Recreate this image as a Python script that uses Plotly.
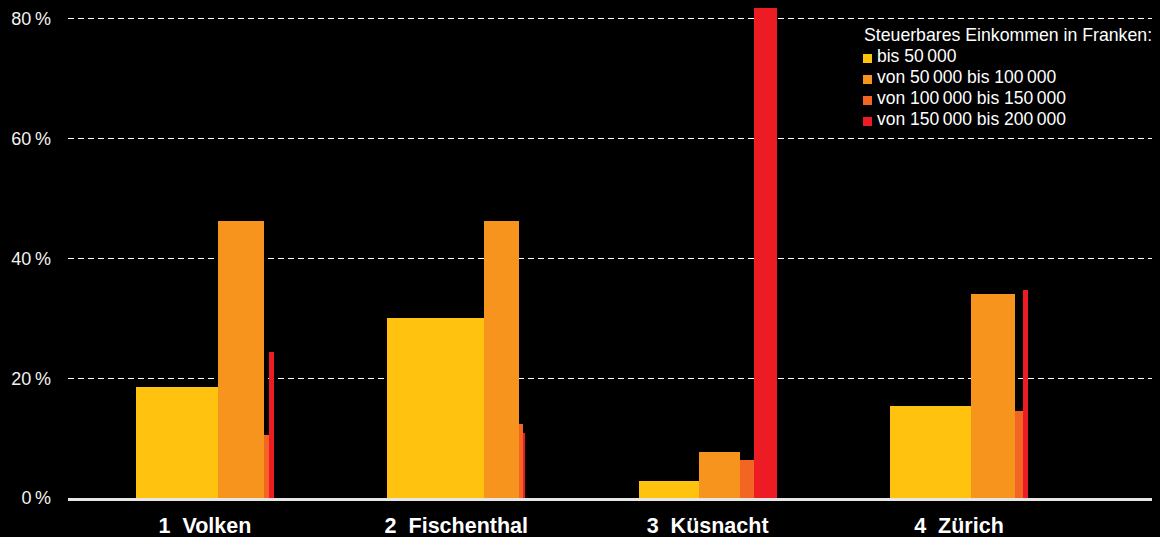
import plotly.graph_objects as go

# ---- data ----
municipalities = ["1\u00a0\u00a0Volken", "2\u00a0\u00a0Fischenthal", "3\u00a0\u00a0Küsnacht", "4\u00a0\u00a0Zürich"]
series_names = ["bis 50\u2009000", "von 50\u2009000 bis 100\u2009000",
                "von 100\u2009000 bis 150\u2009000", "von 150\u2009000 bis 200\u2009000"]
legend_title = "Steuerbares Einkommen in Franken:"

# bar heights (percent)
bis_50k = [18.6, 30.1, 2.9, 15.4]
von_50k_100k = [46.2, 46.2, 7.6, 34.1]
von_100k_150k = [10.5, 12.4, 6.3, 14.6]
von_150k_200k = [24.4, 10.9, 81.8, 34.7]

# bar width shares within each municipality (percent of group width)
share_bis_50k = [59.4, 70.3, 43.5, 58.7]
share_50k_100k = [33.3, 25.4, 29.7, 31.9]
share_100k_150k = [3.6, 2.9, 10.1, 5.8]
share_150k_200k = [3.6, 1.4, 16.7, 3.6]

y_ticks = [0, 20, 40, 60, 80]
y_ticklabels = ["0\u2009%", "20\u2009%", "40\u2009%", "60\u2009%", "80\u2009%"]

# ---- styling ----
colors = ["#FFC20E", "#F7941D", "#F26522", "#ED1C24"]
GROUP_WIDTH = 0.549
FONT = "Liberation Sans, Arial, sans-serif"

heights = [bis_50k, von_50k_100k, von_100k_150k, von_150k_200k]
shares = [share_bis_50k, share_50k_100k, share_100k_150k, share_150k_200k]

fig = go.Figure()
n = len(municipalities)
centers = list(range(n))
lefts = [c - GROUP_WIDTH / 2 for c in centers]
for s in range(4):
    xs, ws = [], []
    for g in range(n):
        w = shares[s][g] / 100 * GROUP_WIDTH
        xs.append(lefts[g] + w / 2)
        ws.append(w)
        lefts[g] += w
    fig.add_trace(go.Bar(
        x=xs, y=heights[s], width=ws, name=series_names[s],
        marker=dict(color=colors[s], line=dict(width=0)),
        showlegend=False,
    ))

W, H = 1160, 537
L, R, T, B = 68, 8, 5, 39
pw, ph = W - L - R, H - T - B

def px_x(px):
    return (px - L) / pw

def px_y(py):
    return (H - B - py) / ph

annotations = [dict(
    x=px_x(862), y=px_y(35), xref="paper", yref="paper", xanchor="left", yanchor="middle",
    text=legend_title, showarrow=False, font=dict(family=FONT, size=17.7, color="#ffffff"),
)]
shapes = []
row_centers = [56, 77, 98, 119]
for i, name in enumerate(series_names):
    annotations.append(dict(
        x=px_x(875), y=px_y(row_centers[i]), xref="paper", yref="paper",
        xanchor="left", yanchor="middle", text=name, showarrow=False,
        font=dict(family=FONT, size=17.5, color="#ffffff"),
    ))
    top = row_centers[i] - 2
    shapes.append(dict(
        type="rect", xref="paper", yref="paper",
        x0=px_x(863), x1=px_x(872), y0=px_y(top), y1=px_y(top + 9),
        fillcolor=colors[i], line=dict(width=0),
    ))

fig.update_layout(
    width=W, height=H,
    margin=dict(l=L, r=R, t=T, b=B, pad=0, autoexpand=False),
    paper_bgcolor="#000000", plot_bgcolor="#000000",
    barmode="overlay", bargap=0,
    annotations=annotations, shapes=shapes,
    xaxis=dict(
        range=[-0.545, 3.768], tickvals=centers, ticktext=municipalities,
        showgrid=False, zeroline=False, showline=True, linecolor="#e6e6e6", linewidth=3,
        ticks="", ticklabelstandoff=6, automargin=False,
        tickfont=dict(family=FONT, size=21.5, color="#ffffff", weight="bold"),
    ),
    yaxis=dict(
        range=[0, ph / 5.99], tickvals=y_ticks, ticktext=y_ticklabels,
        showgrid=True, gridcolor="#ffffff", gridwidth=1, griddash="6px,4px",
        zeroline=False, ticks="", ticklabelstandoff=16, automargin=False,
        tickfont=dict(family=FONT, size=18, color="#f2f2f2"),
    ),
)

fig.write_html(
    "out.html",
    config={"displayModeBar": False},
    post_script="document.body.style.margin='0';document.body.style.background='#000';",
)
